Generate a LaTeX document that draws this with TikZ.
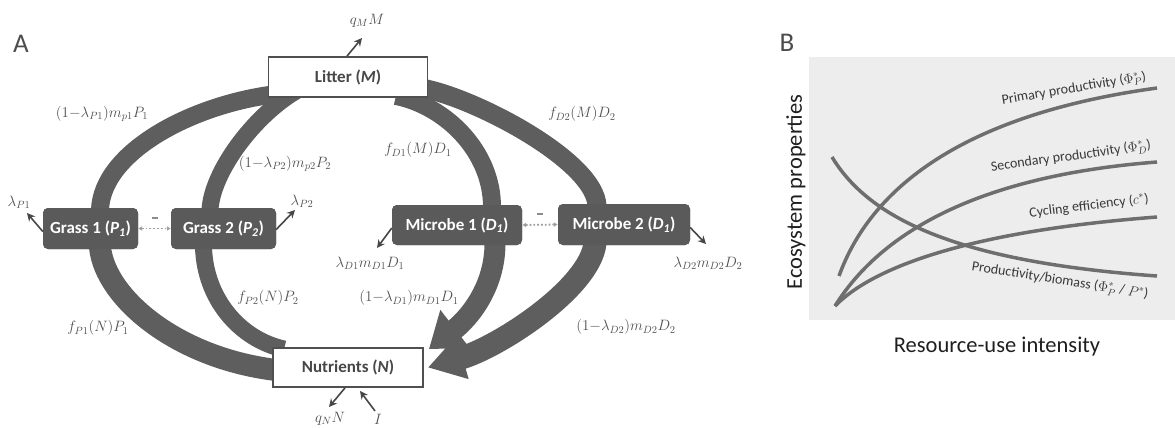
\RequirePackage{fix-cm}
\documentclass[tikz,border=0pt]{standalone}
\usepackage{fontspec}
\setmainfont{Carlito}
\usetikzlibrary{arrows.meta}
\definecolor{band}{HTML}{5E5E5E}
\definecolor{boxfill}{HTML}{5A5A5A}
\definecolor{lab}{HTML}{505050}
\definecolor{bgB}{HTML}{EDEDED}
\definecolor{crv}{HTML}{6E6E6E}
\begin{document}
\begin{tikzpicture}[x=1pt,y=-1pt,
  bandline/.style={draw=band, line width=#1},
  bandline/.default=18pt,
  whitebox/.style={draw=lab, line width=1.8pt, fill=white, inner sep=0pt, text=black!72,
     font=\bfseries\fontsize{17}{20}\selectfont},
  darkbox/.style={fill=boxfill, rounded corners=5pt, inner sep=0pt, text=white,
     font=\bfseries\fontsize{17}{20}\selectfont},
  flux/.style={draw=black!72, line width=1.6pt, -{Stealth[length=8pt,width=8pt]}},
  lbl/.style={text=lab, inner sep=0pt, font=\fontsize{15}{17}\selectfont},
  compete/.style={draw=black!38, dotted, line width=1.8pt, {Latex[length=4pt,width=5pt]}-{Latex[length=4pt,width=5pt]}},
  minus/.style={fill=black!45, inner sep=0pt, minimum width=6pt, minimum height=1.6pt},
  panel/.style={text=black!70, inner sep=0pt, font=\fontsize{27}{30}\selectfont},
  curve/.style={draw=crv, line width=3.5pt},
  clab/.style={text=black!78, inner sep=0pt, font=\fontsize{14}{16}\selectfont},
  axlab/.style={text=black!88, inner sep=0pt, font=\fontsize{22.5}{26}\selectfont}]
\useasboundingbox (0,0) rectangle (1175,428);

% ---------------- Panel A ----------------
\node[panel] (A) at (21,44) {A};

% boxes (positions)
\node[whitebox, minimum width=159pt, minimum height=40pt] (litter) at (348,77) {Litter (\textit{M})};
\node[whitebox, minimum width=150pt, minimum height=39pt] (nut) at (348,367.5) {Nutrients (\textit{N})};
\node[darkbox, minimum width=95pt, minimum height=41pt] (g1) at (90.5,228.5) {Grass 1 (\textit{P}\textsubscript{\textit{1}})};
\node[darkbox, minimum width=105pt, minimum height=41pt] (g2) at (223.5,228.5) {Grass 2 (\textit{P}\textsubscript{\textit{2}})};
\node[darkbox, minimum width=130pt, minimum height=40pt] (m1) at (457,225) {Microbe 1 (\textit{D}\textsubscript{\textit{1}})};
\node[darkbox, minimum width=132pt, minimum height=41pt] (m2) at (624,224.5) {Microbe 2 (\textit{D}\textsubscript{\textit{1}})};

% bands
\draw[bandline=18pt] ([xshift=9.5pt,yshift=-2pt]g1.north) .. controls +(2,-58) and +(-85,10) .. ([xshift=10pt,yshift=4pt]litter.south west);
\draw[bandline=17pt] ([xshift=-13.5pt,yshift=-2pt]g2.north) .. controls +(2,-38) and +(-45,25) .. ([xshift=32pt,yshift=9pt]litter.south west);
\draw[bandline=18pt] ([xshift=-32.5pt,yshift=2pt]litter.south east) .. controls +(50,10) and +(0,-55) .. ([xshift=35pt,yshift=-2pt]m1.north);
\draw[bandline=19pt] ([xshift=-2.5pt,yshift=9pt]litter.south east) .. controls +(55,12) and +(-2,-44) .. ([xshift=-27pt,yshift=-2pt]m2.north);
\draw[bandline=22pt] ([xshift=9.5pt,yshift=2pt]g1.south) .. controls +(5,51) and +(-105,-10) .. ([xshift=12pt,yshift=17pt]nut.south west);
\draw[bandline=17pt] ([xshift=-20pt,yshift=2pt]g2.south) .. controls +(1.5,51) and +(-45,-10) .. ([xshift=12pt,yshift=-2pt]nut.north west);
\draw[draw=band, line width=21pt, -{Triangle[width=46pt,length=33pt]}] ([xshift=38pt,yshift=2pt]m1.south) .. controls +(0,45) and +(39,-30) .. ([xshift=5pt,yshift=-2pt]nut.north east);
\draw[draw=band, line width=23pt, -{Triangle[width=42pt,length=36pt]}] ([xshift=-29pt,yshift=2pt]m2.south) .. controls +(-5,45) and +(70,-20) .. ([xshift=4pt]nut.east);

% redraw boxes on top
\node[whitebox, minimum width=159pt, minimum height=40pt] at (litter) {Litter (\textit{M})};
\node[whitebox, minimum width=150pt, minimum height=39pt] at (nut) {Nutrients (\textit{N})};
\node[darkbox, minimum width=95pt, minimum height=41pt] at (g1) {Grass 1 (\textit{P}\textsubscript{\textit{1}})};
\node[darkbox, minimum width=105pt, minimum height=41pt] at (g2) {Grass 2 (\textit{P}\textsubscript{\textit{2}})};
\node[darkbox, minimum width=130pt, minimum height=40pt] at (m1) {Microbe 1 (\textit{D}\textsubscript{\textit{1}})};
\node[darkbox, minimum width=132pt, minimum height=41pt] at (m2) {Microbe 2 (\textit{D}\textsubscript{\textit{1}})};

% competition
\draw[compete] (g1.east) -- (g2.west);
\node[minus] (mg) at (155,218) {};
\draw[compete] (m1.east) -- (m2.west);
\node[minus] (mm) at (540,214) {};

% small flux arrows and labels
\node[lbl] (qM) at (367,21) {$q_M M$};
\coordinate (qMe) at (362,38);
\draw[flux] ([xshift=-1pt]litter.north) -- (qMe);

\node[lbl] (lp1) at (19,202) {$\lambda_{P1}$};
\coordinate (lp1e) at (27,213);
\draw[flux] ([yshift=-3pt]g1.west) -- (lp1e);

\node[lbl] (lp2) at (302,201) {$\lambda_{P2}$};
\coordinate (lp2e) at (295,210);
\draw[flux] ([yshift=-1pt]g2.east) -- (lp2e);

\node[lbl] (ld1) at (370,263) {$\lambda_{D1} m_{D1} D_1$};
\coordinate (ld1e) at (377,248);
\draw[flux] ([yshift=-3pt]m1.west) -- (ld1e);

\node[lbl] (ld2) at (708,263) {$\lambda_{D2} m_{D2} D_2$};
\coordinate (ld2e) at (706,244);
\draw[flux] ([yshift=-3pt]m2.east) -- (ld2e);

\node[lbl] (qN) at (330,419) {$q_N N$};
\coordinate (qNe) at (329,407);
\draw[flux] ([xshift=-3pt]nut.south) -- (qNe);

\node[lbl] (In) at (378,419) {$I$};
\coordinate (Is) at (375,411);
\draw[flux] (Is) -- ([xshift=12pt,yshift=-3pt]nut.south);

% band labels
\node[lbl] (t1) at (102,114) {$(1{-}\lambda_{P1}) m_{p1} P_1$};
\node[lbl] (t2) at (285,164) {$(1{-}\lambda_{P2}) m_{p2} P_2$};
\node[lbl] (t3) at (418,150) {$f_{D1}(M) D_1$};
\node[lbl] (t4) at (582,114) {$f_{D2}(M) D_2$};
\node[lbl] (t5) at (98,328) {$f_{P1}(N) P_1$};
\node[lbl] (t6) at (268,298) {$f_{P2}(N) P_2$};
\node[lbl] (t7) at (409,298) {$(1{-}\lambda_{D1}) m_{D1} D_1$};
\node[lbl] (t8) at (626,327) {$(1{-}\lambda_{D2}) m_{D2} D_2$};

% ---------------- Panel B ----------------
\node[panel] (B) at (787,43) {B};
\fill[bgB] (809,57) rectangle (1175,320);
\node[axlab, rotate=90] (yl) at (796,192) {Ecosystem properties};
\node[axlab] (xl) at (997,347) {Resource-use intensity};

\draw[curve] (839,276) .. controls (870,190) and (960,115) .. (1157,88);
\draw[curve] (835,306) .. controls (870,250) and (950,178) .. (1157,162);
\draw[curve] (835,306) .. controls (870,270) and (960,232) .. (1157,217);
\draw[curve] (832,157) .. controls (870,220) and (960,262) .. (1157,276);

\node[clab, rotate=9.5] (c1) at (1074,89) {Primary productivity ($\Phi^{*}_{P}$)};
\node[clab, rotate=8] (c2) at (1071,157) {Secondary productivity ($\Phi^{*}_{D}$)};
\node[clab, rotate=7] (c3) at (1089,206) {Cycling efficiency ($c^{*}$)};
\node[clab, rotate=-9] (c4) at (1060,281) {Productivity/biomass ($\Phi^{*}_{P}$ / $P^{*}$)};
\end{tikzpicture}
\end{document}
